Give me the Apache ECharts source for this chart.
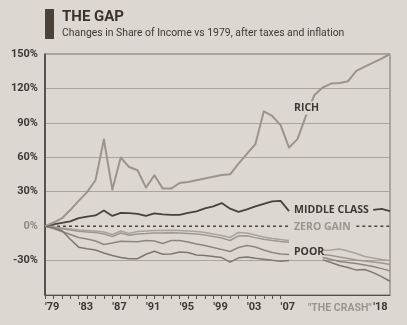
<!DOCTYPE html>
<html><head><meta charset="utf-8">
<script src="https://cdn.jsdelivr.net/npm/echarts@6/dist/echarts.min.js"></script>
<style>html,body{margin:0;padding:0;background:#dcd8d1}#c{width:407px;height:325px}</style>
</head><body><div id="c"></div>
<script>
const years = ['1979','1980','1981','1982','1983','1984','1985','1986','1987','1988','1989','1990','1991','1992','1993','1994','1995','1996','1997','1998','1999','2000','2001','2002','2003','2004','2005','2006','2007','2008','2009','2010','2011','2012','2013','2014','2015','2016','2017','2018','2019','2020'];
const xTickLabels = {'1979':"'79",'1983':"'83",'1987':"'87",'1991':"'91",'1995':"'95",'1999':"'99",'2003':"'03",'2007':"'07",'2018':"'18"};
const crashLabel = '"THE CRASH"';
const yTicks = [-60,-30,0,30,60,90,120,150];

const rich = [0,3,6.7,14,22,29.6,40,75.5,31.8,59.8,51.5,48.7,33.6,44.3,32.7,32.7,37.6,38.5,40,41.5,43,44.5,45.2,54.5,63,71.4,100,96,88,68.5,75.8,95.9,114,120.8,124.2,124.7,126.2,135.3,139,142.5,146,150];
const middleClass = [0,1.5,2.8,4.1,7,8.2,9.3,13.7,8.9,11.5,11.4,10.7,8.9,11.1,10.2,9.8,9.8,11.5,12.8,15.5,17.2,20.1,15.2,12.4,14.6,17.2,19.4,21.6,22,13.1,null,null,null,null,null,null,null,null,null,14.2,15.1,13.1];
const zeroGain = [0,0,0,0,0,0,0,0,0,0,0,0,0,0,0,0,0,0,0,0,0,0,0,0,0,0,0,0,0,0,null,null,null,null,null,null,null,0,0,0,0,0];
const poorA = [0,-0.7,-1.6,-2.4,-3.3,-3.8,-4.2,-5.1,-7.3,-4.2,-6.4,-4.6,-4.2,-3.8,-3.8,-3.6,-3.8,-4.2,-4.6,-5.5,-6.8,-8.1,-9.9,-5.5,-5.9,-7.7,-9.4,-10.7,-11.6,-12.5,null,null,null,-21,-20.8,-19.9,-21.7,-23.9,-26.5,-27.8,-29.1,-30];
const poorB = [0,-1,-2.2,-3.3,-4.5,-5,-5.6,-6.8,-9,-6,-8,-6.8,-6.5,-6,-6,-5.8,-6,-6.4,-6.9,-7.8,-9,-10.4,-12.5,-8.5,-8.3,-10,-11.5,-12.6,-13.4,-14,null,null,null,-24.7,-25.6,-26.9,-28.2,-29.5,-30.4,-31.3,-32.2,-33.5];
const poorC = [0,-2,-4.6,-7.3,-9.9,-11.2,-12.9,-16,-14.7,-13.2,-13.4,-13.5,-12.5,-12.9,-15.1,-12.5,-12.5,-13.8,-15.6,-16.9,-18.6,-20.4,-22.1,-18.6,-16.9,-18.2,-20.8,-23,-24.3,-24.7,null,null,null,-27.4,-29.1,-30.8,-31.7,-32.6,-33.9,-35.2,-37,-39];
const poorD = [0,-1.6,-3.8,-11.4,-18.3,-19.7,-20.8,-23.4,-25.6,-27.4,-28.5,-28.4,-24.5,-21.9,-24.5,-24.3,-22.5,-23,-25.2,-25.6,-26.5,-27.4,-31.3,-27.6,-26.9,-28,-28.9,-29.8,-30.5,-30,null,null,null,-29.4,-31.7,-34.3,-36.1,-38.3,-37.8,-40.5,-44,-48];

const BG = '#dcd8d1';
const DARK = '#3d3833';
const GRID = '#a9a59e';
const FONT = 'Roboto';
const LFONT = '"Open Sans"';

function line(name, data, color, width, z, dashed) {
  return {
    name: name, type: 'line', data: data, symbol: 'none', z: z,
    connectNulls: false, animation: false,
    lineStyle: {color: color, width: width, type: dashed ? [3, 3] : 'solid', join: 'round'}
  };
}

const chart = echarts.init(document.getElementById('c'), null, {renderer: 'canvas'});
chart.setOption({
  backgroundColor: BG,
  animation: false,
  grid: {left: 45, right: 17, top: 54, bottom: 30, show: true, borderColor: '#77726b', borderWidth: 1},
  xAxis: {
    type: 'category', data: years, boundaryGap: false,
    axisLine: {show: true, onZero: false, lineStyle: {color: '#55504a', width: 1}},
    axisTick: {show: true, length: 4, lineStyle: {color: '#55504a'},
      interval: function (i) { return i <= 28; }},
    axisLabel: {
      interval: function (i, v) { return xTickLabels[v] !== undefined; },
      formatter: function (v) { return xTickLabels[v]; },
      hideOverlap: false, showMinLabel: true, showMaxLabel: true,
      align: 'left', margin: 7, color: DARK, fontFamily: FONT, fontWeight: 'bold', fontSize: 11
    },
    splitLine: {show: false}
  },
  yAxis: {
    type: 'value', min: yTicks[0], max: yTicks[yTicks.length - 1], interval: 30,
    axisLine: {show: true, lineStyle: {color: DARK, width: 1.5}},
    axisTick: {show: false},
    axisLabel: {
      margin: 7, color: DARK, fontFamily: FONT, fontWeight: 'bold', fontSize: 11,
      formatter: function (v) { if (v === -60) return ''; if (v === 0) return '{z|0%}'; return v + '%'; },
      rich: {z: {color: '#8f8a83', fontFamily: FONT, fontWeight: 'bold', fontSize: 11}}
    },
    splitLine: {show: true, lineStyle: {color: [GRID, GRID, 'rgba(0,0,0,0)', GRID, GRID, GRID, GRID, GRID], width: 1}}
  },
  series: [
    line('ZERO GAIN', zeroGain, '#4a4540', 1.5, 2, true),
    line('POOR A', poorA, '#a8a39b', 1.5, 3),
    line('POOR B', poorB, '#9d978f', 1.5, 3),
    line('POOR C', poorC, '#8c867e', 1.5, 3),
    line('POOR D', poorD, '#7d776f', 1.5, 3),
    line('MIDDLE CLASS', middleClass, '#48423c', 1.8, 4),
    line('RICH', rich, '#9a948b', 2, 4)
  ],
  graphic: [
    {type: 'rect', shape: {x: 45, y: 9, width: 9, height: 30}, style: {fill: '#4a4138'}},
    {type: 'text', x: 62, y: 10, style: {text: 'THE GAP', fill: '#3a332d', font: 'bold 15px Roboto'}},
    {type: 'text', x: 62, y: 28, style: {text: 'Changes in Share of Income vs 1979, after taxes and inflation', fill: '#3d3833', font: '10.4px Roboto'}},
    {type: 'text', x: 308, y: 308, z: 100, style: {text: crashLabel, fill: '#9a958e', font: 'bold 10.5px Roboto', verticalAlign: 'middle'}},
    {type: 'text', x: 293, y: 108, z: 100, style: {text: 'RICH', fill: DARK, font: 'bold 10.5px ' + LFONT, verticalAlign: 'middle', backgroundColor: BG, padding: [1, 1]}},
    {type: 'text', x: 294, y: 210, z: 100, style: {text: 'MIDDLE CLASS', fill: DARK, font: 'bold 10.5px ' + LFONT, verticalAlign: 'middle'}},
    {type: 'text', x: 294, y: 227, z: 100, style: {text: 'ZERO GAIN', fill: '#9a958e', font: 'bold 10.5px ' + LFONT, verticalAlign: 'middle', backgroundColor: BG}},
    {type: 'text', x: 294, y: 252, z: 100, style: {text: 'POOR', fill: DARK, font: 'bold 10.5px ' + LFONT, verticalAlign: 'middle'}}
  ]
});
</script>
</body></html>
